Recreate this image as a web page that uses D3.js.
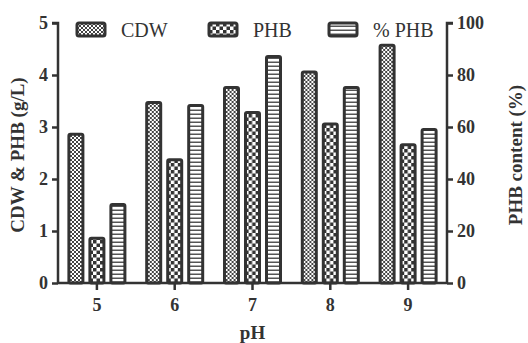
<!DOCTYPE html>
<html>
<head>
<meta charset="utf-8">
<script src="https://cdn.jsdelivr.net/npm/d3@7"></script>
<style>
  body { margin: 0; background: #fff; }
  text { font-family: "Liberation Serif", "Times New Roman", serif; fill: #333; }
</style>
</head>
<body>
<div id="chart"></div>
<script>
// data
var phValues = ["5", "6", "7", "8", "9"];
var cdw = [2.86, 3.47, 3.76, 4.06, 4.57];
var phb = [0.86, 2.37, 3.28, 3.06, 2.66];
var pctPhb = [30.2, 68.3, 87.1, 75.2, 59.0];
var seriesNames = ["CDW", "PHB", "% PHB"];
var leftTicks = [0, 1, 2, 3, 4, 5];
var rightTicks = [0, 20, 40, 60, 80, 100];

var dark = "#333";
var margin = {top: 23, right: 81, bottom: 60, left: 58},
    width = 528 - margin.left - margin.right,
    height = 343 - margin.top - margin.bottom;

var svg = d3.select("#chart")
  .append("svg")
    .attr("width", 528)
    .attr("height", 343);

// fill patterns
var defs = svg.append("defs");
var p1 = defs.append("pattern").attr("id", "pCDW")
    .attr("patternUnits", "userSpaceOnUse").attr("width", 4).attr("height", 4);
p1.append("rect").attr("width", 4).attr("height", 4).attr("fill", "#fff");
p1.append("rect").attr("width", 2).attr("height", 2).attr("fill", "#444");
p1.append("rect").attr("x", 2).attr("y", 2).attr("width", 2).attr("height", 2).attr("fill", "#444");

var p2 = defs.append("pattern").attr("id", "pPHB")
    .attr("patternUnits", "userSpaceOnUse").attr("width", 7).attr("height", 7);
p2.append("rect").attr("width", 7).attr("height", 7).attr("fill", "#fff");
p2.append("rect").attr("width", 3.5).attr("height", 3.5).attr("fill", dark);
p2.append("rect").attr("x", 3.5).attr("y", 3.5).attr("width", 3.5).attr("height", 3.5).attr("fill", dark);

var p3 = defs.append("pattern").attr("id", "pPCT")
    .attr("patternUnits", "userSpaceOnUse").attr("width", 4).attr("height", 4);
p3.append("rect").attr("width", 4).attr("height", 4).attr("fill", "#fff");
p3.append("rect").attr("y", 2.5).attr("width", 4).attr("height", 1.5).attr("fill", "#555");

var fills = {"CDW": "url(#pCDW)", "PHB": "url(#pPHB)", "% PHB": "url(#pPCT)"};

var g = svg.append("g")
    .attr("transform", "translate(" + margin.left + "," + margin.top + ")");

// scales
var x0 = d3.scaleBand().domain(phValues).range([0, width]);
var pitch = 21;
var x1 = d3.scaleBand().domain(seriesNames)
    .range([(x0.bandwidth() - 3 * pitch) / 2, (x0.bandwidth() + 3 * pitch) / 2]);
var yL = d3.scaleLinear().domain([0, 5]).range([height, 0]);
var yR = d3.scaleLinear().domain([0, 100]).range([height, 0]);

var rows = phValues.map(function(p, i) {
  return [
    {ph: p, s: "CDW", y: yL(cdw[i])},
    {ph: p, s: "PHB", y: yL(phb[i])},
    {ph: p, s: "% PHB", y: yR(pctPhb[i])}
  ];
});

// bars
g.selectAll(".grp")
  .data(rows)
  .enter()
  .append("g")
    .attr("transform", function(d, i) { return "translate(" + x0(phValues[i]) + ",0)"; })
  .selectAll("rect")
  .data(function(d) { return d; })
  .enter()
  .append("rect")
    .attr("x", function(d) { return x1(d.s) + 3.5; })
    .attr("y", function(d) { return d.y; })
    .attr("width", x1.bandwidth() - 7)
    .attr("height", function(d) { return height - d.y; })
    .attr("rx", 1.5)
    .attr("fill", function(d) { return fills[d.s]; })
    .attr("stroke", dark)
    .attr("stroke-width", 3);

// axes
var axL = g.append("g")
    .call(d3.axisLeft(yL).tickValues(leftTicks).tickSize(6).tickPadding(4).tickFormat(d3.format("d")));
var axR = g.append("g")
    .attr("transform", "translate(" + width + ",0)")
    .call(d3.axisRight(yR).tickValues(rightTicks).tickSize(6).tickPadding(4));
var axB = g.append("g")
    .attr("transform", "translate(0," + height + ")")
    .call(d3.axisBottom(x0).tickSize(7).tickPadding(8));

[axL, axR, axB].forEach(function(a) {
  a.select(".domain").attr("stroke", dark).attr("stroke-width", 2.5);
  a.selectAll(".tick line").attr("stroke", dark).attr("stroke-width", 2.5);
  a.selectAll(".tick text")
    .style("font-family", "'Liberation Serif', serif")
    .style("font-size", "18px")
    .style("font-weight", "bold")
    .attr("fill", dark);
});
axL.select(".domain").attr("d", "M-6," + yL(5) + "H0V" + height);
axR.select(".domain").attr("d", "M6," + yR(100) + "H0V" + height);
axB.select(".domain").attr("d", "M0,0H" + width);

// axis labels
svg.append("text")
    .attr("text-anchor", "middle")
    .attr("x", margin.left + width / 2)
    .attr("y", 339)
    .style("font-size", "19px")
    .style("font-weight", "bold")
    .text("pH");

svg.append("text")
    .attr("text-anchor", "middle")
    .attr("transform", "translate(24," + (margin.top + height / 2 + 2) + ") rotate(-90)")
    .style("font-size", "19px")
    .style("font-weight", "bold")
    .text("CDW & PHB (g/L)");

svg.append("text")
    .attr("text-anchor", "middle")
    .attr("transform", "translate(522," + (margin.top + height / 2 + 2) + ") rotate(-90)")
    .style("font-size", "19px")
    .style("font-weight", "bold")
    .text("PHB content (%)");

// legend
var legX = [77, 209, 329];
var leg = svg.selectAll(".leg")
  .data(seriesNames)
  .enter()
  .append("g")
    .attr("transform", function(d, i) { return "translate(" + legX[i] + ",23)"; });
leg.append("rect")
    .attr("width", 28)
    .attr("height", 13)
    .attr("rx", 2)
    .attr("fill", function(d) { return fills[d]; })
    .attr("stroke", dark)
    .attr("stroke-width", 3);
leg.append("text")
    .attr("x", 44)
    .attr("y", 14)
    .style("font-size", "20px")
    .text(function(d) { return d; });
</script>
</body>
</html>
